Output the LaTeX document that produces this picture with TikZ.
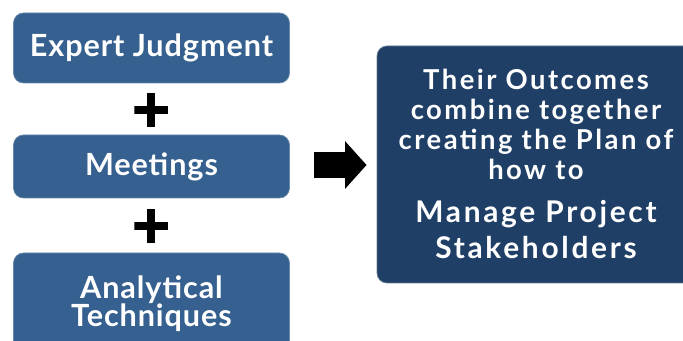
\documentclass[tikz,border=0pt]{standalone}
\usepackage{fontspec}
\setmainfont{Lato}
\newfontfamily\boxfont[LetterSpace=3]{Lato}
\newfontfamily\planfont[LetterSpace=9]{Lato}
\newfontfamily\stakefont[LetterSpace=9]{Lato}
\usetikzlibrary{positioning, shapes.arrows}
\definecolor{myBlue}{RGB}{53,96,143}
\definecolor{myNavy}{RGB}{31,63,102}
\colorlet{mEdge}{myBlue!75!white}

\begin{document}
\begin{tikzpicture}[
  tool/.style={fill=myBlue, draw=mEdge, line width=0.4pt, rounded corners=0.2cm,
    text=white, font=\boxfont\fontsize{17.4}{15.9}\selectfont\bfseries,
    align=center, minimum width=5.52cm, inner sep=0pt},
  plusmark/.style={minimum size=0.67cm, inner sep=0pt, path picture={
    \fill[black] ([xshift=-0.08cm]path picture bounding box.north)
      rectangle ([xshift=0.08cm]path picture bounding box.south);
    \fill[black] ([yshift=-0.085cm]path picture bounding box.west)
      rectangle ([yshift=0.085cm]path picture bounding box.east);}},
  blockarrow/.style={single arrow, fill=black, inner xsep=0pt, inner ysep=0.25cm,
    minimum height=1.05cm, single arrow head extend=0.22cm,
    single arrow tip angle=96},
  result/.style={fill=myNavy, draw=myNavy!70!white, line width=0.4pt,
    rounded corners=0.2cm, minimum width=6.36cm, minimum height=4.74cm},
  plantext/.style={text=white, align=center, inner sep=0pt, anchor=north},
]
  \useasboundingbox (0,0) rectangle (13.66,-6.82);

  \node[tool, minimum height=1.4cm] (expert) at (3.03,-0.96) {Expert Judgment};
  \node[tool, minimum height=1.26cm] (meet) at (3.03,-3.33) {Meetings};
  \node[tool, minimum height=2.04cm] (analytic) at (3.03,-6.08)
    {Analytical\\Techniques};

  \node[plusmark] (plusA) at (3.02,-2.2) {};
  \node[plusmark] (plusB) at (3.02,-4.52) {};

  \node[blockarrow] (arr) at (6.69,-3.3) {};

  \node[result] (plan) at (10.72,-3.29) {};
  \node[plantext, font=\planfont\fontsize{15.6}{17.07}\selectfont\bfseries]
    (planA) at (10.72,-1.37)
    {Their Outcomes\\combine together\\creating the Plan of\\how to};
  \node[plantext, font=\stakefont\fontsize{17}{20.5}\selectfont\bfseries]
    (planB) at (10.72,-3.99)
    {Manage Project\\Stakeholders};
\end{tikzpicture}
\end{document}
